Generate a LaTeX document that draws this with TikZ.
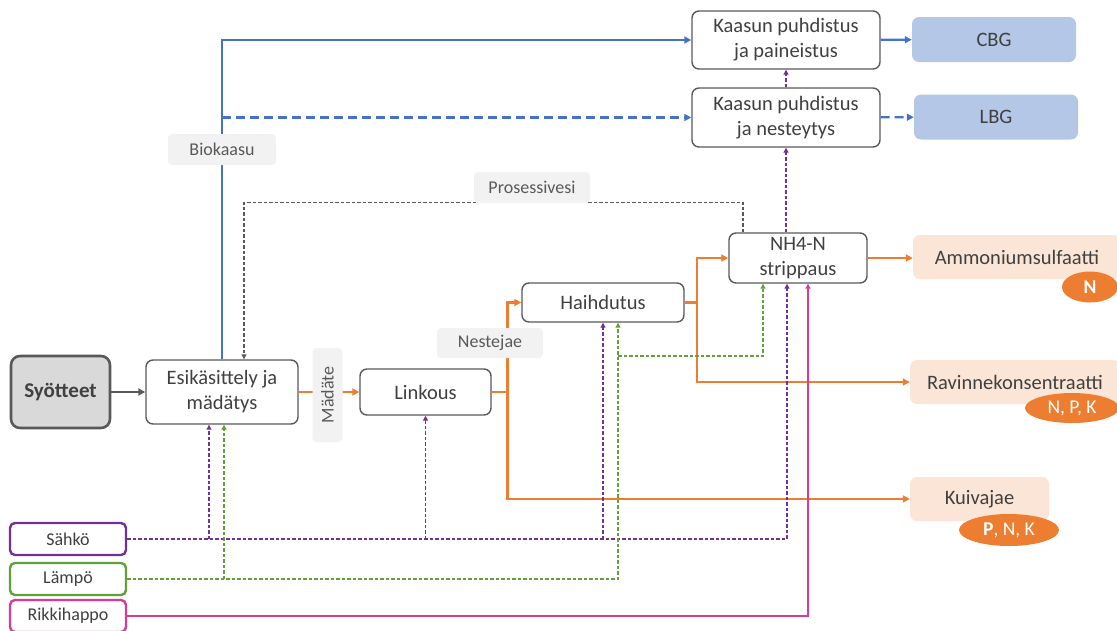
\documentclass[tikz,border=0pt]{standalone}
\usepackage{fontspec}
\setmainfont{Carlito}
\usetikzlibrary{arrows.meta,shapes.geometric}
\definecolor{txtgray}{HTML}{404040}
\definecolor{labgray}{HTML}{595959}
\definecolor{boxgray}{HTML}{595959}
\definecolor{feedfill}{HTML}{D9D9D9}
\definecolor{gasfill}{HTML}{B4C7E7}
\definecolor{prodfill}{HTML}{FBE5D6}
\definecolor{tagfill}{HTML}{F2F2F2}
\definecolor{nutorange}{HTML}{ED7D31}
\definecolor{lineblue}{HTML}{4472C4}
\definecolor{elpurple}{HTML}{7030A0}
\definecolor{heatgreen}{HTML}{62A03C}
\definecolor{acidpink}{HTML}{D83B96}
\begin{document}
\begin{tikzpicture}[x=1pt,y=-1pt,
    every node/.style={font=\fontsize{20.5}{25}\selectfont,text=txtgray,align=center,inner sep=0pt},
    feed/.style={draw=boxgray,fill=feedfill,line width=2.6pt,rounded corners=9pt,font=\fontsize{21}{25}\selectfont\bfseries},
    proc/.style={draw=boxgray,fill=white,line width=1.4pt,rounded corners=7pt},
    gas/.style={fill=gasfill,rounded corners=7pt},
    prod/.style={fill=prodfill,rounded corners=7pt},
    tag/.style={fill=tagfill,rounded corners=4pt,font=\fontsize{18}{20}\selectfont,text=labgray},
    nut/.style={ellipse,fill=nutorange,text=white,font=\fontsize{19.5}{20}\selectfont},
    util/.style={fill=white,line width=2.4pt,rounded corners=5pt,minimum width=116pt,minimum height=32pt,font=\fontsize{18}{20}\selectfont},
    darr/.style={draw=boxgray,line width=2.4pt,-{Triangle[length=7pt,width=7pt]}},
    oline/.style={draw=nutorange,line width=2.4pt},
    oarr/.style={oline,-{Triangle[length=7pt,width=7pt]}},
    barr/.style={draw=lineblue,line width=2.4pt,-{Triangle[length=7pt,width=7pt]}},
    bdash/.style={barr,dash pattern=on 9pt off 5pt},
    pwarr/.style={draw=boxgray,line width=1.1pt,dash pattern=on 3.5pt off 2pt,-{Triangle[length=5pt,width=5pt]}},
    earr/.style={draw=elpurple,line width=1.1pt,dash pattern=on 3.5pt off 2pt,-{Triangle[length=5pt,width=5pt]}},
    harr/.style={draw=heatgreen,line width=1.1pt,dash pattern=on 3.5pt off 2pt,-{Triangle[length=5pt,width=5pt]}},
    aarr/.style={draw=acidpink,line width=1.1pt,-{Triangle[length=5pt,width=5pt]}}]
    \useasboundingbox (0,0) rectangle (1117,630);

    %NODE
    \node[feed,minimum width=99pt,minimum height=72pt] (syo) at (60.5,392) {Syötteet};
    \node[proc,minimum width=152pt,minimum height=64pt] (esi) at (222,392) {Esikäsittely ja\\mädätys};
    \node[proc,minimum width=131pt,minimum height=46pt] (lin) at (425.5,392) {Linkous};
    \node[proc,minimum width=162pt,minimum height=39pt] (hai) at (603,302.5) {Haihdutus};
    \node[proc,minimum width=138pt,minimum height=50pt] (str) at (798,258) {NH4-N\\strippaus};
    \node[proc,minimum width=188pt,minimum height=58pt] (kpa) at (786,40) {Kaasun puhdistus\\ja paineistus};
    \node[proc,minimum width=188pt,minimum height=59pt] (kne) at (786,117.5) {Kaasun puhdistus\\ja nesteytys};
    \node[gas,minimum width=164pt,minimum height=45pt] (cbg) at (994,39.5) {CBG};
    \node[gas,minimum width=164pt,minimum height=45pt] (lbg) at (996,117) {LBG};
    \node[prod,minimum width=208pt,minimum height=44pt] (amm) at (1017,257) {Ammoniumsulfaatti};
    \node[prod,minimum width=210pt,minimum height=44pt] (rav) at (1015,382) {Ravinnekonsentraatti};
    \node[prod,minimum width=139pt,minimum height=44pt] (kui) at (979.5,499) {Kuivajae};
    \node[util,draw=elpurple] (sah) at (68,539) {Sähkö};
    \node[util,draw=heatgreen] (lam) at (68,579) {Lämpö};
    \node[util,draw=acidpink] (rik) at (68,616) {Rikkihappo};

    %EDGE
    \draw[darr] (syo) -- (esi);
    \draw[oarr] (esi) -- (lin);
    \coordinate (lj) at (507.5,392);
    \draw[oline] (lin) -- (lj);
    \draw[oarr] (lj) |- (hai);
    \draw[oarr] (lj) |- (kui);
    \coordinate (hj) at (697,302.5);
    \draw[oline] (hai) -- (hj);
    \draw[oarr] (hj) |- (str);
    \draw[oarr] (hj) |- (rav);
    \draw[oarr] (str) -- (amm.west |- str.east);

    \draw[barr] (esi.north) |- (kpa);
    \draw[bdash] (esi.north |- kne.west) -- (kne);
    \draw[barr] (kpa) -- (cbg);
    \draw[bdash] (kne) -- (lbg);

    \draw[pwarr] ([xshift=-55pt]str.north) -- ++(0,-30) -| ([xshift=22pt]esi.north);

    \draw[earr] ([xshift=-12pt]str.north) -- (kne);
    \draw[earr] (kne) -- (kpa);
    \draw[earr] (sah) -| ([xshift=-11pt]str.south);
    \coordinate (e1) at ([xshift=-13pt]esi.south);
    \draw[earr] (e1 |- sah.east) -- (e1);
    \draw[earr] (lin.south |- sah.east) -- (lin.south);
    \draw[earr] (hai.south |- sah.east) -- (hai.south);

    \coordinate (e2) at ([xshift=2pt]esi.south);
    \coordinate (h2) at ([xshift=15pt]hai.south);
    \draw[harr] (lam) -| (h2);
    \draw[harr] (e2 |- lam.east) -- (e2);
    \coordinate (gj) at (618,356);
    \draw[harr] (gj) -| ([xshift=-35pt]str.south);

    \draw[aarr] (rik) -| ([xshift=10pt]str.south);

    %LABEL
    \node[tag,minimum width=108pt,minimum height=31pt] (bio) at (222,149.5) {Biokaasu};
    \node[tag,minimum width=116pt,minimum height=31pt] (pro) at (532,187.5) {Prosessivesi};
    \node[tag,minimum width=106pt,minimum height=30pt] (nes) at (490,343) {Nestejae};
    \node[tag,rotate=90,minimum width=94pt,minimum height=30pt] (mad) at (327.5,395) {Mädäte};

    \node[nut,minimum width=56pt,minimum height=31pt] (nn) at (1090,287) {\textbf{N}};
    \node[nut,minimum width=94pt,minimum height=30pt] (npk) at (1072,408) {N, P, K};
    \node[nut,minimum width=100pt,minimum height=32pt] (pnk) at (1009,530) {\textbf{P}, N, K};
\end{tikzpicture}
\end{document}
